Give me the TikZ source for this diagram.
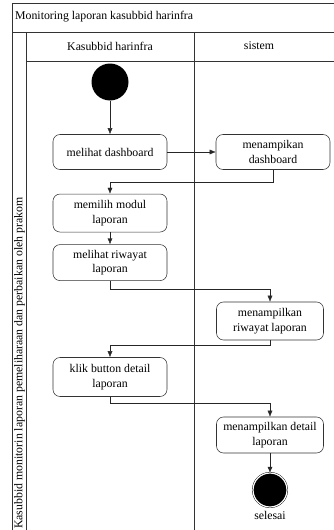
\documentclass[tikz,border=0pt]{standalone}
\usepackage{fontspec}
\setmainfont{Liberation Serif}
\usetikzlibrary{positioning,arrows.meta,calc}

\tikzset{
  activity/.style={draw=black!80, line width=0.55pt, fill=white, rounded corners=7pt, align=center,
    minimum width=114pt, minimum height=36pt, inner sep=2pt},
  flow/.style={-{Latex[length=6pt,width=5pt]}, black!85},
  lane/.style={draw=black!80, line width=0.6pt}
}

\begin{document}
\begin{tikzpicture}[x=1pt, y=-1pt,
  font=\fontsize{11.8}{14.5}\selectfont]
    \useasboundingbox (0,0) rectangle (334,530);
    \clip (0,0) rectangle (334,530);
    % swimlane frame
    \draw[lane] (360,3) -- (12,3) -- (12,560);
    \draw[lane] (12,32) -- (360,32);
    \draw[lane] (26,32) -- (26,560);
    \draw[lane] (26,61) -- (360,61);
    \draw[lane] (194,32) -- (194,560);
    \node[anchor=west, inner sep=0] (title) at (15,17) {Monitoring laporan kasubbid harinfra};
    \node (kasubbid) at (110,46) {Kasubbid harinfra};
    \node (sistem) at (259,46) {sistem};
    \node[anchor=west, rotate=90, inner sep=0] (pool) at (19.5,529)
      {Kasubbid monitorin laporan pemeliharaan dan perbaikan oleh prakom};
    %
    \node[circle, fill=black, minimum size=37pt, inner sep=0] (start) at (110,82) {};
    \node[activity, minimum height=35pt] (lihatdash) at (110,152) {melihat dashboard};
    \node[activity, minimum height=35pt] (tampildash) at (273,152) {menampikan\\dashboard};
    \node[activity, minimum height=38pt, below=24pt of lihatdash] (pilihmodul) {memilih modul\\laporan};
    \node[activity, below=12pt of pilihmodul] (lihatriwayat) {melihat riwayat\\laporan};
    \node[activity, minimum width=107pt, minimum height=38pt] (tampilriwayat) at (270,321) {menampilkan\\riwayat laporan};
    \node[activity, minimum height=39pt] (klikdetail) at (110,377) {klik button detail\\laporan};
    \node[activity, minimum width=107pt] (tampildetail) at (270,435) {menampilkan detail\\laporan};
    \node[circle, fill=black, draw=black, double=white, double distance=1.2pt,
      minimum size=34pt, inner sep=0] (end) at (270,490) {};
    \node[below=1pt of end] (selesai) {selesai};
    %
    \draw[flow] (start) -- (lihatdash);
    \draw[flow] (lihatdash) -- (tampildash);
    \draw[flow] (tampildash.south) -- ++(0,12) -| (pilihmodul.north);
    \draw[flow] (pilihmodul) -- (lihatriwayat);
    \draw[flow] (lihatriwayat.south) -- ++(0,8) -| (tampilriwayat.north);
    \draw[flow] (tampilriwayat.south) -- ++(0,5) -| (klikdetail.north);
    \draw[flow] (klikdetail.south) -- ++(0,6) -| (tampildetail.north);
    \draw[flow] (tampildetail) -- (end);
  \end{tikzpicture}
\end{document}
